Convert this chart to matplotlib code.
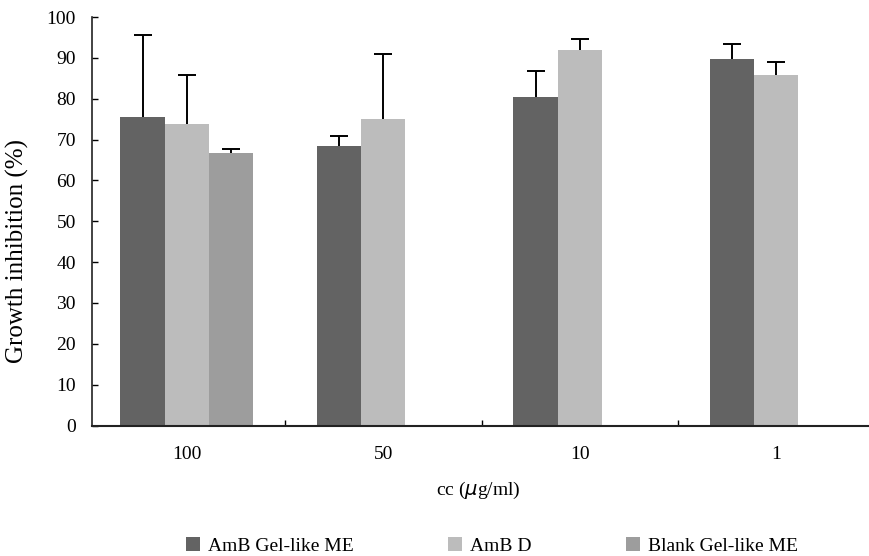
import numpy as np
import matplotlib
matplotlib.use("Agg")
import matplotlib.pyplot as plt

categories = ["100", "50", "10", "1"]
series_names = ["AmB Gel-like ME", "AmB D", "Blank Gel-like ME"]
amb_gel = [75.4, 68.5, 80.5, 89.8]
amb_gel_err = [20.2, 2.4, 6.4, 3.5]
amb_d = [73.8, 75.1, 91.8, 85.9]
amb_d_err = [11.9, 15.9, 2.7, 3.1]
blank_gel = [66.6, np.nan, np.nan, np.nan]
blank_gel_err = [1.0, np.nan, np.nan, np.nan]
yticks = [0, 10, 20, 30, 40, 50, 60, 70, 80, 90, 100]

colors = ["#636363", "#bcbcbc", "#9d9d9d"]

plt.rcParams['font.family'] = ['Liberation Serif', 'DejaVu Serif']
FS = 14

W, H = 869, 556
fig = plt.figure(figsize=(W / 100, H / 100), dpi=100)
left, right, top, bottom = 92, 874.5, 17, 425.5
ax = fig.add_axes([left / W, 1 - bottom / H, (right - left) / W, (bottom - top) / H])

x = np.arange(len(categories))
bw = 0.225
data = [(amb_gel, amb_gel_err), (amb_d, amb_d_err), (blank_gel, blank_gel_err)]
for j, ((vals, errs), c, name) in enumerate(zip(data, colors, series_names)):
    pos = x + (j - 1) * bw
    ax.bar(pos, vals, width=bw, color=c, label=name, linewidth=0, zorder=2)
    eb = ax.errorbar(pos, vals, yerr=[np.zeros(len(errs)), errs], fmt='none',
                     ecolor='black', elinewidth=1.4, capsize=6.5, capthick=1.4, zorder=3)
    caplines = eb.lines[1]
    if len(caplines) >= 2:
        caplines[0].set_visible(False)

ax.set_xlim(-0.5 + 3.5 / 196.5, 3.5)
ax.set_ylim(0, 100)
ax.set_yticks(yticks)
ax.set_yticklabels([str(v) for v in yticks], fontsize=FS)
ax.tick_params(axis='y', direction='in', length=4.3, width=1, pad=11.5)

ax.set_xticks([0.5, 1.5, 2.5])
ax.set_xticklabels([])
ax.tick_params(axis='x', which='major', direction='in', length=4.3, width=1)
ax.set_xticks(x, minor=True)
ax.set_xticklabels(categories, minor=True, fontsize=FS)
ax.tick_params(axis='x', which='minor', length=0, pad=14.5)

for s in ['top', 'right']:
    ax.spines[s].set_visible(False)
ax.spines['left'].set_linewidth(1.2)
ax.spines['bottom'].set_linewidth(1.5)
ax.spines['left'].set_color('#222222')
ax.spines['bottom'].set_color('#222222')

ax.set_xlabel("cc ($\\mathit{\\mu}$g/ml)", fontsize=FS)
ax.xaxis.set_label_coords((478 - left) / (right - left), (bottom - 490) / (bottom - top))
ax.xaxis.label.set_va('center')
ax.set_ylabel("Growth inhibition (%)", fontsize=18)
ax.yaxis.set_label_coords((17 - left) / (right - left), (bottom - 251) / (bottom - top))
ax.yaxis.label.set_va('center')

fig.legend(loc='center', bbox_to_anchor=(492 / W, 1 - 546 / H), ncol=3, frameon=False,
           fontsize=FS, handlelength=0.72, handleheight=0.72, handletextpad=0.4,
           columnspacing=4.85, borderaxespad=0, borderpad=0)

fig.savefig("out.png", dpi=100)
